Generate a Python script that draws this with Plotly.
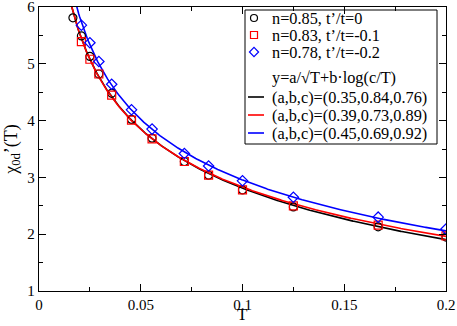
import numpy as np
import plotly.graph_objects as go

# temperatures of the data points (T = 1/N)
T_black = [1/60, 1/48, 1/40, 1/34, 1/28, 1/22, 1/18, 1/14, 1/12, 1/10, 1/8, 1/6, 1/5]
chi_black = [5.81, 5.49, 5.13, 4.82, 4.48, 4.02, 3.69, 3.28, 3.04, 2.78, 2.48, 2.13, 1.95]

T_red = [1/48, 1/40, 1/34, 1/28, 1/22, 1/18, 1/14, 1/12, 1/10, 1/8, 1/6, 1/5]
chi_red = [5.39, 5.08, 4.82, 4.45, 4.01, 3.68, 3.28, 3.04, 2.78, 2.50, 2.16, 1.97]

T_blue = [1/48, 1/40, 1/34, 1/28, 1/22, 1/18, 1/14, 1/12, 1/10, 1/8, 1/6, 1/5]
chi_blue = [5.68, 5.37, 5.04, 4.64, 4.19, 3.85, 3.42, 3.20, 2.94, 2.65, 2.30, 2.09]

data_names = ["n=0.85, t\u2019/t=0", "n=0.83, t\u2019/t=-0.1", "n=0.78, t\u2019/t=-0.2"]
formula_label = "y=a/\u221aT+b\u00b7log(c/T)"

# fit parameters (a, b, c) from the legend
fit_a = [0.35, 0.39, 0.45]
fit_b = [0.84, 0.73, 0.69]
fit_c = [0.76, 0.89, 0.92]

colors = ["black", "#ff0000", "#0000ff"]
symbols = ["circle-open", "square-open", "diamond-open"]
serif = "Liberation Serif"

fig = go.Figure()

series = [(T_black, chi_black), (T_red, chi_red), (T_blue, chi_blue)]

Tfit = np.linspace(0.012, 0.2, 400)
for a, b, c, col in zip(fit_a, fit_b, fit_c, colors):
    yfit = a / np.sqrt(Tfit) + b * np.log(c / Tfit)
    fig.add_trace(go.Scatter(x=Tfit, y=yfit, mode="lines", showlegend=False,
                             line=dict(color=col, width=1.6)))

for (tx, cy), col, sym in zip(series, colors, symbols):
    fig.add_trace(go.Scatter(x=tx, y=cy, mode="markers", showlegend=False,
                             marker=dict(symbol=sym, size=8, color=col,
                                         line=dict(width=1.2, color=col))))

# hand-made legend, laid out in pixel units on an overlay axis pair
fig.add_shape(type="rect", xref="x2", yref="y2", x0=245, x1=437, y0=10, y1=144,
              line=dict(color="black", width=1), fillcolor="white", layer="below")

marker_rows = [18, 35, 52]
line_rows = [97, 115, 133]
fig.add_trace(go.Scatter(x=[254] * 3, y=marker_rows, xaxis="x2", yaxis="y2",
                         mode="markers", showlegend=False, hoverinfo="skip",
                         marker=dict(symbol=symbols, size=7, color=colors,
                                     line=dict(width=1.2, color=colors))))
leg_font = dict(family=serif, size=16.3, color="black")
for yy, name in zip(marker_rows, data_names):
    fig.add_annotation(xref="x2", yref="y2", x=270, y=yy, text=name, showarrow=False,
                       xanchor="left", yanchor="middle", font=leg_font)
fig.add_annotation(xref="x2", yref="y2", x=270, y=77, text=formula_label, showarrow=False,
                   xanchor="left", yanchor="middle", font=leg_font)
for yy, a, b, c, col in zip(line_rows, fit_a, fit_b, fit_c, colors):
    fig.add_shape(type="line", xref="x2", yref="y2", x0=248, x1=264, y0=yy, y1=yy,
                  line=dict(color=col, width=1.6), layer="above")
    fig.add_annotation(xref="x2", yref="y2", x=270, y=yy,
                       text=f"(a,b,c)=({a:.2f},{b:.2f},{c:.2f})", showarrow=False,
                       xanchor="left", yanchor="middle", font=leg_font)

# x axis title, placed by hand so it stays inside the page
fig.add_annotation(xref="paper", yref="paper", x=0.5, y=(291 - 315) / 284, text="T",
                   showarrow=False, xanchor="center", yanchor="middle",
                   font=dict(family=serif, size=17, color="black"))

axis_common = dict(showline=True, linecolor="black", linewidth=1.3, mirror="ticks",
                   ticks="inside", ticklen=7, tickwidth=1, tickcolor="black",
                   showgrid=False, zeroline=False, automargin=False,
                   ticklabeloverflow="allow",
                   tickfont=dict(family=serif, size=15, color="black"))

fig.update_xaxes(range=[0, 0.2], dtick=0.05,
                 minor=dict(dtick=0.025, ticks="inside", ticklen=4, tickcolor="black"),
                 **axis_common)
fig.update_yaxes(range=[1, 6], dtick=1,
                 minor=dict(dtick=0.5, ticks="inside", ticklen=4, tickcolor="black"),
                 title=dict(text="\u03c7<sub>0d</sub>\u2019(T)",
                            font=dict(family=serif, size=18, color="black"),
                            standoff=5),
                 **axis_common)

fig.update_layout(width=457, height=326,
                  margin=dict(l=39, r=11, t=7, b=35),
                  paper_bgcolor="white", plot_bgcolor="white",
                  font=dict(family=serif, color="black"),
                  showlegend=False,
                  xaxis2=dict(overlaying="x", range=[39, 446], visible=False, fixedrange=True),
                  yaxis2=dict(overlaying="y", range=[291, 7], visible=False, fixedrange=True))

# the page body has a default 8px margin; drop it so the figure sits at the corner
fig.write_html("out.html", config={"displayModeBar": False},
               post_script="document.body.style.margin='0';")
